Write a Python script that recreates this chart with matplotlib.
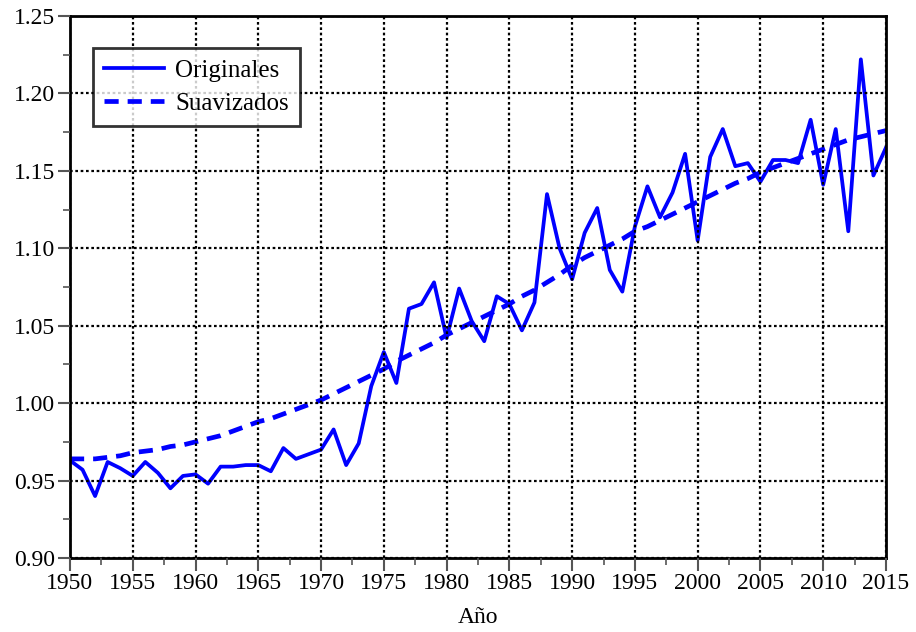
import matplotlib.pyplot as plt
from matplotlib.ticker import MultipleLocator, FormatStrFormatter

plt.rcParams['font.family'] = ['Liberation Serif', 'DejaVu Serif']

years = list(range(1950, 2016))

originales = [
    0.963, 0.957, 0.940, 0.962, 0.958, 0.953, 0.962, 0.955, 0.945, 0.953,
    0.954, 0.948, 0.959, 0.959, 0.960, 0.960, 0.956, 0.971, 0.964, 0.967,
    0.970, 0.983, 0.960, 0.974, 1.011, 1.033, 1.013, 1.061, 1.064, 1.078,
    1.042, 1.074, 1.053, 1.040, 1.069, 1.064, 1.047, 1.065, 1.135, 1.100,
    1.080, 1.110, 1.126, 1.086, 1.072, 1.114, 1.140, 1.120, 1.136, 1.161,
    1.105, 1.159, 1.177, 1.153, 1.155, 1.143, 1.157, 1.157, 1.155, 1.183,
    1.141, 1.177, 1.111, 1.222, 1.147, 1.165,
]

suavizados = [
    0.964, 0.964, 0.964, 0.965, 0.966, 0.968, 0.969, 0.970, 0.972, 0.973,
    0.975, 0.977, 0.979, 0.982, 0.985, 0.988, 0.990, 0.993, 0.996, 0.999,
    1.002, 1.006, 1.010, 1.014, 1.018, 1.022, 1.027, 1.031, 1.035, 1.039,
    1.044, 1.048, 1.052, 1.056, 1.060, 1.064, 1.069, 1.073, 1.078, 1.083,
    1.089, 1.094, 1.098, 1.102, 1.106, 1.111, 1.114, 1.118, 1.122, 1.126,
    1.130, 1.134, 1.138, 1.142, 1.145, 1.149, 1.152, 1.155, 1.158, 1.161,
    1.164, 1.167, 1.170, 1.172, 1.174, 1.176,
]

fig = plt.figure(figsize=(9.16, 6.32), dpi=100)
ax = fig.add_axes([0.0764, 0.1171, 0.8908, 0.8576])

ax.plot(years, originales, color='#0000ff', lw=2.7, label='Originales')
ax.plot(years, suavizados, color='#0000ff', lw=3.4, dashes=(3.0, 1.9),
        label='Suavizados')

ax.set_xlim(1950, 2015)
ax.set_ylim(0.90, 1.25)
ax.xaxis.set_major_locator(MultipleLocator(5))
ax.xaxis.set_minor_locator(MultipleLocator(2.5))
ax.yaxis.set_major_locator(MultipleLocator(0.05))
ax.yaxis.set_minor_locator(MultipleLocator(0.025))
ax.yaxis.set_major_formatter(FormatStrFormatter('%.2f'))

ax.grid(True, which='major', color='black', linestyle=(0, (1.2, 1.2)), lw=1.6)
ax.set_axisbelow(False)

for s in ax.spines.values():
    s.set_linewidth(2)
    s.set_color('black')

ax.tick_params(axis='both', which='major', direction='out', length=9,
               width=1.5, color='#555555', labelsize=17, pad=2)
ax.tick_params(axis='both', which='minor', direction='out', length=5,
               width=1.2, color='#555555')

ax.set_xlabel('Año', fontsize=17, labelpad=9)

leg = ax.legend(loc='upper left', bbox_to_anchor=(0.028, 0.941), fontsize=18,
                frameon=True, fancybox=False, edgecolor='black',
                handlelength=2.4, handletextpad=0.45, borderpad=0.45,
                labelspacing=0.42, borderaxespad=0)
leg.get_frame().set_linewidth(2)

fig.savefig('out.png', dpi=100)
